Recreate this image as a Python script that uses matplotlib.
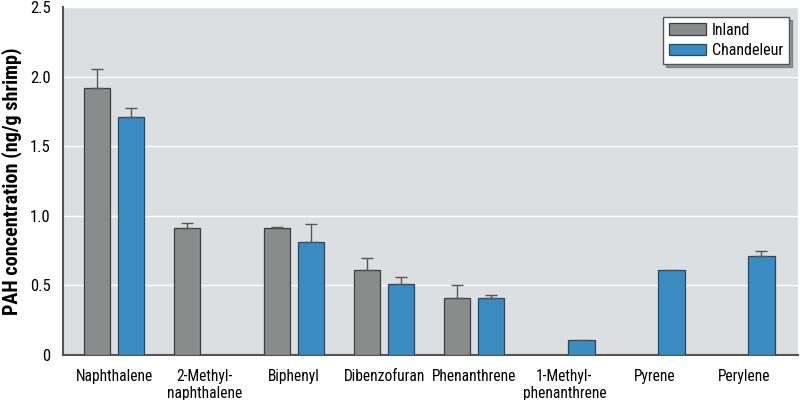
import matplotlib.pyplot as plt
from matplotlib import font_manager
import numpy as np

compounds = ['Naphthalene', '2-Methyl-\nnaphthalene', 'Biphenyl', 'Dibenzofuran',
             'Phenanthrene', '1-Methyl-\nphenanthrene', 'Pyrene', 'Perylene']
nan = np.nan
# nan = not detected / no error bar shown
inland = [1.92, 0.91, 0.91, 0.61, 0.41, nan, nan, nan]
inland_err = [0.14, 0.04, 0.01, 0.09, 0.09, nan, nan, nan]
chandeleur = [1.71, nan, 0.81, 0.51, 0.41, 0.11, 0.61, 0.71]
chandeleur_err = [0.07, nan, 0.13, 0.05, 0.02, nan, nan, 0.04]

# pick a narrow face if one is around
names = {f.name for f in font_manager.fontManager.ttflist}
family = 'Roboto'
for cand in ['Liberation Sans Narrow', 'DejaVu Sans Condensed', 'Roboto Condensed']:
    if cand in names:
        family = cand
        break
plt.rcParams['font.family'] = [family, 'DejaVu Sans']

fig = plt.figure(figsize=(8, 4), dpi=100)
ax = fig.add_axes([0.079, 0.1125, 0.919, 0.869])
ax.set_facecolor('#dcdfe1')

x = np.arange(len(compounds))
w = 0.29
off = 0.19
err_kw = dict(ecolor='#555555', elinewidth=1, capsize=4, capthick=1)

ax.bar(x - off, inland, w, color='#8a8c8c', edgecolor='#3c3c3c', linewidth=0.9,
       yerr=[np.zeros(len(x)), inland_err], error_kw=err_kw, label='Inland', zorder=3)
ax.bar(x + off, chandeleur, w, color='#3a8bc2', edgecolor='#2e4656', linewidth=0.9,
       yerr=[np.zeros(len(x)), chandeleur_err], error_kw=err_kw, label='Chandeleur', zorder=3)

ax.set_xlim(-0.567, 7.6)
ax.set_ylim(0, 2.5)
ax.set_yticks([0, 0.5, 1.0, 1.5, 2.0, 2.5])
ax.set_yticklabels(['0', '0.5', '1.0', '1.5', '2.0', '2.5'], fontsize=12)
ax.set_xticks(x)
ax.set_xticklabels(compounds, fontsize=11.2, linespacing=1.2)
ax.tick_params(length=0, pad=9)
ax.tick_params(axis='x', pad=10)
ax.yaxis.grid(True, color='white', linewidth=1, zorder=0)
ax.set_axisbelow(True)

for s in ['top', 'right']:
    ax.spines[s].set_visible(False)
ax.spines['left'].set_color('#555555')
ax.spines['bottom'].set_color('#555555')
ax.spines['left'].set_linewidth(1.5)
ax.spines['bottom'].set_linewidth(1.5)

ax.set_ylabel('PAH concentration (ng/g shrimp)', fontsize=14.5, fontweight='bold', labelpad=6)

leg = ax.legend(loc='upper right', fontsize=11.5, fancybox=False, shadow=True,
                edgecolor='#555555', framealpha=1, handlelength=2.3, handleheight=0.75,
                labelspacing=0.35, borderpad=0.35, handletextpad=0.4,
                borderaxespad=0.6)

fig.savefig('out.png', dpi=100)
